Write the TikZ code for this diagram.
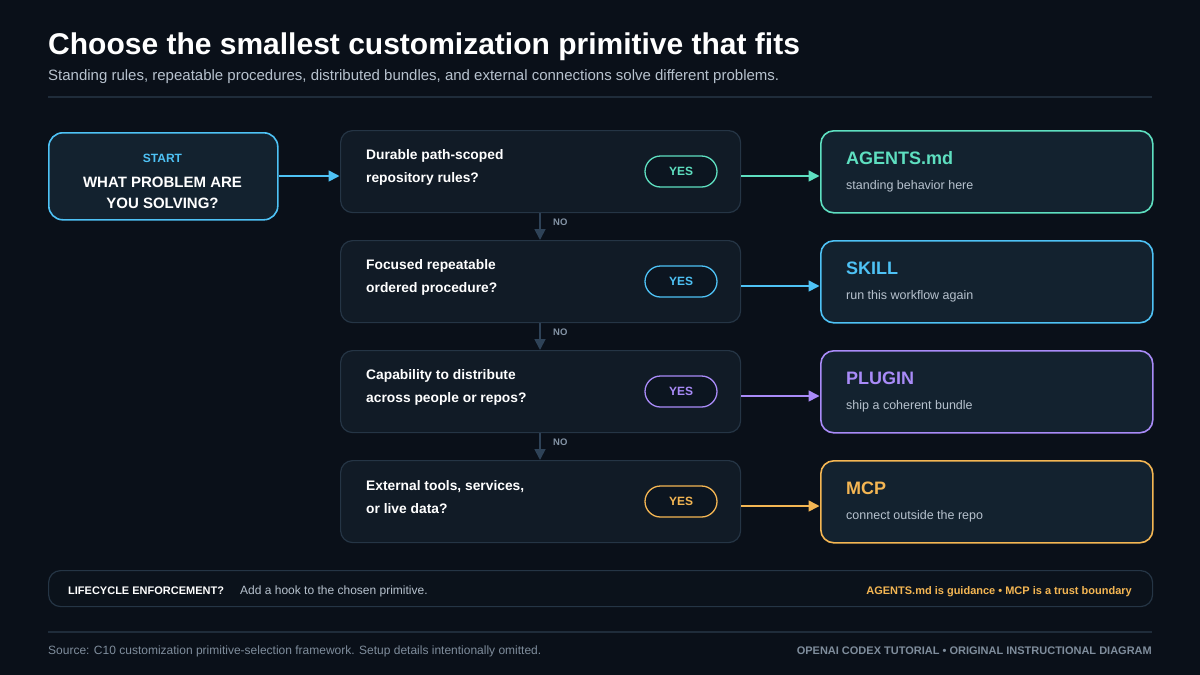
\documentclass[tikz,border=0pt]{standalone}
\usepackage{fontspec}
\setmainfont{Liberation Sans}
\usetikzlibrary{arrows.meta}
\definecolor{bg}{HTML}{0A1019}
\definecolor{rule}{HTML}{1F2C3A}
\definecolor{qfill}{HTML}{111B26}
\definecolor{qline}{HTML}{253545}
\definecolor{rfill}{HTML}{13222F}
\definecolor{cteal}{HTML}{5EDFC0}
\definecolor{cblue}{HTML}{4EC2F5}
\definecolor{cpurple}{HTML}{A98BF8}
\definecolor{camber}{HTML}{F4B653}
\definecolor{subtxt}{HTML}{B7C2CE}
\definecolor{muted}{HTML}{7F8D9C}
\definecolor{nocol}{HTML}{2E4257}
\definecolor{nolab}{HTML}{8494A6}
\definecolor{pillfill}{HTML}{0C1520}
\definecolor{barfill}{HTML}{0B121B}
\begin{document}
\begin{tikzpicture}[x=1pt,y=-1pt,
  qbox/.style={draw=qline,fill=qfill,line width=1.2pt,rounded corners=12pt,minimum width=400pt,minimum height=82pt,anchor=north west,inner sep=0pt},
  rbox/.style={draw=#1,fill=rfill,line width=1.6pt,rounded corners=13pt,minimum width=332pt,minimum height=82pt,anchor=north west,inner sep=0pt},
  pill/.style={draw=#1,fill=pillfill,line width=1.3pt,rounded corners=15.5pt,minimum width=72pt,minimum height=31pt,inner sep=0pt,text=#1,font=\bfseries\fontsize{12}{14}\selectfont},
  qtext/.style={anchor=west,align=left,text=white,font=\bfseries\fontsize{13.8}{23}\selectfont,inner sep=0pt},
  rtitle/.style={anchor=base west,text=#1,font=\bfseries\fontsize{18}{20}\selectfont,inner sep=0pt},
  rsub/.style={anchor=base west,text=subtxt,font=\fontsize{12.5}{14}\selectfont,inner sep=0pt},
  yesarrow/.style={draw=#1,line width=1.6pt,-{Triangle[length=11pt,width=11pt]},shorten >=0.5pt},
  noarrow/.style={draw=nocol,line width=1.8pt,-{Triangle[length=11pt,width=11pt]}},
  nolabel/.style={anchor=west,text=nolab,font=\bfseries\fontsize{9.5}{11}\selectfont,inner sep=0pt}]
\fill[bg] (0,0) rectangle (1200,675);
\useasboundingbox (0,0) rectangle (1200,675);
% header
\node[anchor=base west,inner sep=0pt,text=white,font=\bfseries\fontsize{30}{34}\selectfont] (title) at (48,54) {Choose the smallest customization primitive that fits};
\node[anchor=base west,inner sep=0pt,text=subtxt,font=\fontsize{15}{18}\selectfont] (subtitle) at (48,80) {Standing rules, repeatable procedures, distributed bundles, and external connections solve different problems.};
\coordinate (r1a) at (48,97); \coordinate (r1b) at (1152,97);
\draw[rule,line width=1.3pt] (r1a) -- (r1b);
% start box
\node[draw=cblue,fill=rfill,line width=1.6pt,rounded corners=14pt,minimum width=229pt,minimum height=87pt,anchor=north west,inner sep=0pt] (start) at (48,132) {};
\node[anchor=base,inner sep=0pt,text=cblue,font=\bfseries\fontsize{12}{14}\selectfont] (startlab) at (162.5,162) {START};
\node[anchor=north,align=center,inner sep=0pt,text=white,font=\bfseries\fontsize{15}{21}\selectfont] (startq) at (162.5,177) {WHAT PROBLEM ARE\\YOU SOLVING?};
% question boxes
\node[qbox] (q1) at (340,130) {};
\node[qbox] (q2) at (340,240) {};
\node[qbox] (q3) at (340,350) {};
\node[qbox] (q4) at (340,460) {};
\node[qtext] (q1t) at (366,167) {Durable path-scoped\\repository rules?};
\node[qtext] (q2t) at (366,277) {Focused repeatable\\ordered procedure?};
\node[qtext] (q3t) at (366,387) {Capability to distribute\\across people or repos?};
\node[qtext] (q4t) at (366,497) {External tools, services,\\or live data?};
% yes pills
\node[pill=cteal] (y1) at (681,171.5) {YES};
\node[pill=cblue] (y2) at (681,281.5) {YES};
\node[pill=cpurple] (y3) at (681,391.5) {YES};
\node[pill=camber] (y4) at (681,501.5) {YES};
% result boxes
\node[rbox=cteal] (a1) at (820,130) {};
\node[rbox=cblue] (a2) at (820,240) {};
\node[rbox=cpurple] (a3) at (820,350) {};
\node[rbox=camber] (a4) at (820,460) {};
\node[rtitle=cteal] (a1t) at (846,164) {AGENTS.md};
\node[rtitle=cblue] (a2t) at (846,274) {SKILL};
\node[rtitle=cpurple] (a3t) at (846,384) {PLUGIN};
\node[rtitle=camber] (a4t) at (846,494) {MCP};
\node[rsub] (a1s) at (846,189) {standing behavior here};
\node[rsub] (a2s) at (846,299) {run this workflow again};
\node[rsub] (a3s) at (846,409) {ship a coherent bundle};
\node[rsub] (a4s) at (846,519) {connect outside the repo};
% arrows
\draw[yesarrow=cblue] (start.east |- 0,176) -- (q1.west |- 0,176);
\draw[yesarrow=cteal] (q1.east |- 0,176) -- (a1.west |- 0,176);
\draw[yesarrow=cblue] (q2.east |- 0,286) -- (a2.west |- 0,286);
\draw[yesarrow=cpurple] (q3.east |- 0,396) -- (a3.west |- 0,396);
\draw[yesarrow=camber] (q4.east |- 0,506) -- (a4.west |- 0,506);
\draw[noarrow] (q1.south -| 540,0) -- (q2.north -| 540,0);
\draw[noarrow] (q2.south -| 540,0) -- (q3.north -| 540,0);
\draw[noarrow] (q3.south -| 540,0) -- (q4.north -| 540,0);
\node[nolabel] (n1) at (553,222) {NO};
\node[nolabel] (n2) at (553,332) {NO};
\node[nolabel] (n3) at (553,442) {NO};
% bottom bar
\node[draw=qline,fill=barfill,line width=1.2pt,rounded corners=12pt,minimum width=1104pt,minimum height=36pt,anchor=north west,inner sep=0pt] (bar) at (48,570) {};
\node[anchor=base west,inner sep=0pt,text=white,font=\bfseries\fontsize{11}{13}\selectfont] (lc) at (68,594) {LIFECYCLE ENFORCEMENT?};
\node[anchor=base west,inner sep=0pt,text=subtxt,font=\fontsize{12}{14}\selectfont] (lcs) at (240,594) {Add a hook to the chosen primitive.};
\node[anchor=base east,inner sep=0pt,text=camber,font=\bfseries\fontsize{11}{13}\selectfont] (guide) at (1132,594) {AGENTS.md is guidance • MCP is a trust boundary};
% footer
\coordinate (r2a) at (48,632); \coordinate (r2b) at (1152,632);
\draw[rule,line width=1.3pt] (r2a) -- (r2b);
\node[anchor=base west,inner sep=0pt,text=muted,font=\fontsize{12}{14}\selectfont] (src) at (48,654) {Source: C10 customization primitive-selection framework. Setup details intentionally omitted.};
\node[anchor=base east,inner sep=0pt,text=muted,font=\bfseries\fontsize{11}{13}\selectfont] (brand) at (1152,654) {OPENAI CODEX TUTORIAL • ORIGINAL INSTRUCTIONAL DIAGRAM};
\end{tikzpicture}
\end{document}
